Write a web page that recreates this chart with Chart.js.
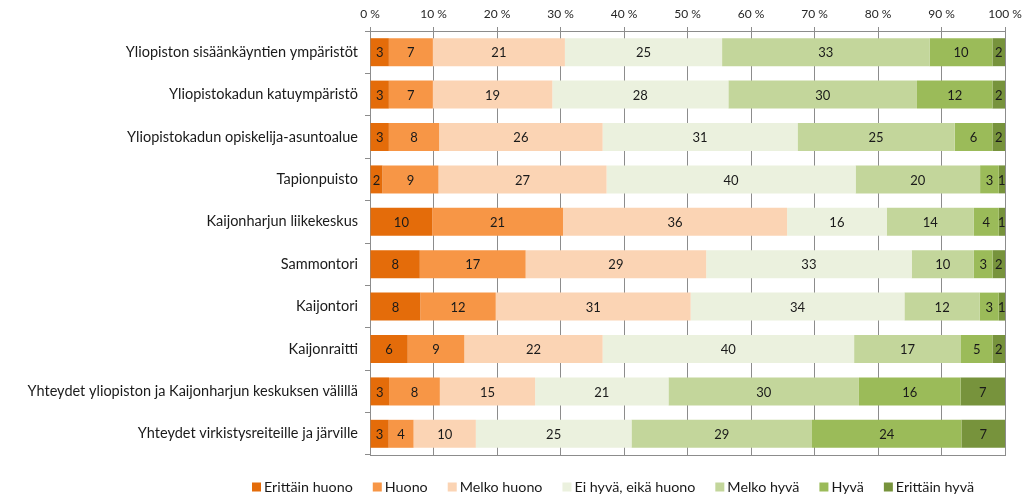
<!DOCTYPE html>
<html lang="fi">
<head>
<meta charset="utf-8">
<title>Arviot alueista</title>
<script src="https://cdn.jsdelivr.net/npm/chart.js@4.4.1/dist/chart.umd.min.js"></script>
<style>
  html, body { margin: 0; padding: 0; background: #ffffff; }
  #wrap { position: relative; width: 1023px; height: 503px; }
</style>
</head>
<body>
<div id="wrap"><canvas id="ratingChart" width="1023" height="503"></canvas></div>
<script>
// Answers per place, in percent (labels as printed on the bars).
const places = [
  'Yliopiston sisäänkäyntien ympäristöt',
  'Yliopistokadun katuympäristö',
  'Yliopistokadun opiskelija-asuntoalue',
  'Tapionpuisto',
  'Kaijonharjun liikekeskus',
  'Sammontori',
  'Kaijontori',
  'Kaijonraitti',
  'Yhteydet yliopiston ja Kaijonharjun keskuksen välillä',
  'Yhteydet virkistysreiteille ja järville',
];
const answerNames = ['Erittäin huono', 'Huono', 'Melko huono', 'Ei hyvä, eikä huono', 'Melko hyvä', 'Hyvä', 'Erittäin hyvä'];
const answerColors = ['#e46c0a', '#f79646', '#fbd4b4', '#ebf1de', '#c3d69b', '#9bbb59', '#77933c'];

const erittainHuono = [3, 3, 3, 2, 10, 8, 8, 6, 3, 3];
const huono        = [7, 7, 8, 9, 21, 17, 12, 9, 8, 4];
const melkoHuono   = [21, 19, 26, 27, 36, 29, 31, 22, 15, 10];
const eiHyvaEiHuono = [25, 28, 31, 40, 16, 33, 34, 40, 21, 25];
const melkoHyva    = [33, 30, 25, 20, 14, 10, 12, 17, 30, 29];
const hyva         = [10, 12, 6, 3, 4, 3, 3, 5, 16, 24];
const erittainHyva = [2, 2, 2, 1, 1, 2, 1, 2, 7, 7];

const percentTicks = [0, 10, 20, 30, 40, 50, 60, 70, 80, 90, 100];

const FONT = 'Lato, "Open Sans", "DejaVu Sans", sans-serif';

// Printed percentages are rounded, so rows add up to 100-102. Scale each
// row so the bar fills 0-100 % like the original 100 % stacked chart.
const series = [erittainHuono, huono, melkoHuono, eiHyvaEiHuono, melkoHyva, hyva, erittainHyva];
const rowTotals = places.map((p, i) => series.reduce((sum, s) => sum + s[i], 0));

const datasets = series.map((values, k) => ({
  label: answerNames[k],
  data: values.map((v, i) => (v / rowTotals[i]) * 100),
  printed: values,
  backgroundColor: answerColors[k],
  borderWidth: 0,
  barPercentage: 0.66,
  categoryPercentage: 1.0,
  xAxisID: 'x',
}));

// Numbers in the middle of each segment.
const segmentLabels = {
  id: 'segmentLabels',
  afterDatasetsDraw(chart) {
    const ctx = chart.ctx;
    ctx.save();
    ctx.font = '13px ' + FONT;
    ctx.fillStyle = '#1a1a1a';
    ctx.textAlign = 'center';
    ctx.textBaseline = 'middle';
    chart.data.datasets.forEach((ds, k) => {
      chart.getDatasetMeta(k).data.forEach((bar, i) => {
        const x = (bar.x + bar.base) / 2;
        ctx.fillText(String(ds.printed[i]), x, bar.y + 1);
      });
    });
    ctx.restore();
  },
};

// Legend row under the plot, centred like the Excel one.
const bottomLegend = {
  id: 'bottomLegend',
  afterDraw(chart) {
    const ctx = chart.ctx;
    ctx.save();
    ctx.font = '14.3px ' + FONT;
    ctx.textBaseline = 'middle';
    const box = 9, boxGap = 3, itemGap = 20;
    const widths = answerNames.map((n) => box + boxGap + ctx.measureText(n).width);
    const total = widths.reduce((a, b) => a + b, 0) + itemGap * (widths.length - 1);
    let x = 613 - total / 2;
    const y = 487;
    answerNames.forEach((name, k) => {
      ctx.fillStyle = answerColors[k];
      ctx.fillRect(x, y - box / 2, box, box);
      ctx.fillStyle = '#1a1a1a';
      ctx.fillText(name, x + box + boxGap, y);
      x += widths[k] + itemGap;
    });
    ctx.restore();
  },
};

new Chart(document.getElementById('ratingChart'), {
  type: 'bar',
  data: { labels: places, datasets: datasets },
  options: {
    indexAxis: 'y',
    responsive: false,
    animation: false,
    layout: { padding: { top: 0, right: 18, bottom: 48, left: 0 } },
    plugins: {
      legend: { display: false },
      tooltip: { enabled: false },
    },
    scales: {
      x: {
        position: 'top',
        stacked: true,
        min: 0,
        max: 100,
        afterBuildTicks: (s) => { s.ticks = percentTicks.map((v) => ({ value: v })); },
        // the "100 %" label may hang over the right edge, as in the original
        afterFit: (s) => { s.height = 31; s.paddingLeft = 0; s.paddingRight = 0; },
        ticks: {
          callback: (v) => v + ' %',
          font: { family: FONT, size: 12 },
          color: '#262626',
          padding: 6,
          maxRotation: 0,
        },
        grid: { color: '#8c8c8c', lineWidth: 1, tickLength: 4 },
        border: { color: '#8c8c8c' },
      },
      x2: {
        position: 'bottom',
        min: 0,
        max: 100,
        afterFit: (s) => { s.height = 0; s.paddingLeft = 0; s.paddingRight = 0; },
        ticks: { display: false },
        grid: { drawOnChartArea: false, drawTicks: false },
        border: { color: '#8c8c8c' },
      },
      y: {
        stacked: true,
        afterFit: (s) => { s.width = 370; },
        ticks: {
          font: { family: FONT, size: 14.5 },
          color: '#1a1a1a',
          padding: 7,
        },
        grid: { offset: true, drawOnChartArea: false, color: '#8c8c8c', tickLength: 5 },
        border: { color: '#8c8c8c' },
      },
    },
  },
  plugins: [segmentLabels, bottomLegend],
});
</script>
</body>
</html>
